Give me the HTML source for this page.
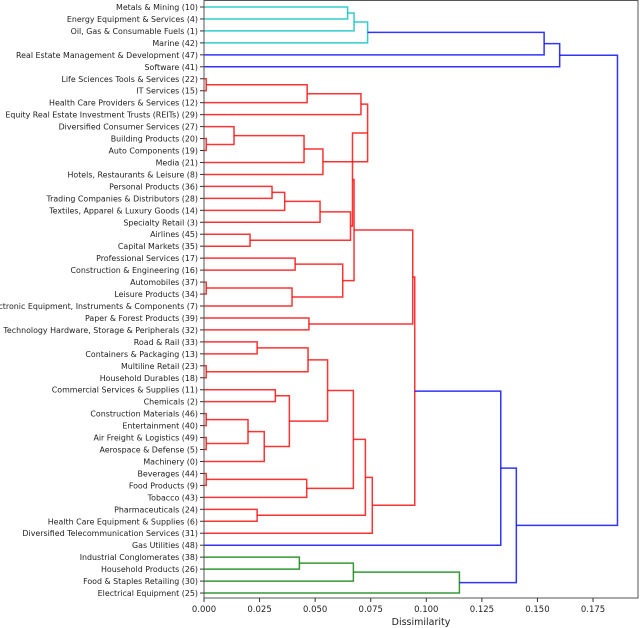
<!DOCTYPE html>
<html><head><meta charset="utf-8"><style>
html,body{margin:0;padding:0;background:#fff;width:640px;height:628px;overflow:hidden}
svg{display:block}
text{font-family:"DejaVu Sans","Liberation Sans",sans-serif;fill:#222}
</style></head><body>
<svg id="chart" width="640" height="628" viewBox="0 0 640 628" xmlns="http://www.w3.org/2000/svg">
<g id="links"></g>
<rect x="204" y="0.5" width="434" height="597.5" fill="none" stroke="#555" stroke-width="1"/>
<g id="ylabels"></g>
<g id="xaxis"></g>
<text x="421" y="625" font-size="9.5" text-anchor="middle">Dissimilarity</text>
</svg>
<script>
const leafLabels = ["Metals & Mining (10)","Energy Equipment & Services (4)","Oil, Gas & Consumable Fuels (1)","Marine (42)","Real Estate Management & Development (47)","Software (41)","Life Sciences Tools & Services (22)","IT Services (15)","Health Care Providers & Services (12)","Equity Real Estate Investment Trusts (REITs) (29)","Diversified Consumer Services (27)","Building Products (20)","Auto Components (19)","Media (21)","Hotels, Restaurants & Leisure (8)","Personal Products (36)","Trading Companies & Distributors (28)","Textiles, Apparel & Luxury Goods (14)","Specialty Retail (3)","Airlines (45)","Capital Markets (35)","Professional Services (17)","Construction & Engineering (16)","Automobiles (37)","Leisure Products (34)","Electronic Equipment, Instruments & Components (7)","Paper & Forest Products (39)","Technology Hardware, Storage & Peripherals (32)","Road & Rail (33)","Containers & Packaging (13)","Multiline Retail (23)","Household Durables (18)","Commercial Services & Supplies (11)","Chemicals (2)","Construction Materials (46)","Entertainment (40)","Air Freight & Logistics (49)","Aerospace & Defense (5)","Machinery (0)","Beverages (44)","Food Products (9)","Tobacco (43)","Pharmaceuticals (24)","Health Care Equipment & Supplies (6)","Diversified Telecommunication Services (31)","Gas Utilities (48)","Industrial Conglomerates (38)","Household Products (26)","Food & Staples Retailing (30)","Electrical Equipment (25)"];
const mergeLeft  = [0,50,51,52,53,6,55,56,11,10,59,60,57,15,63,64,19,65,62,21,23,70,69,68,26,73,28,30,76,32,34,36,80,82,79,78,39,86,85,42,88,90,75,92,46,94,95,93,54];
const mergeRight = [1,2,3,4,5,7,8,9,12,58,13,14,61,16,17,18,20,66,67,22,24,25,71,72,27,74,29,31,77,33,35,37,81,38,83,84,40,41,87,43,89,44,91,45,47,48,49,96,97];
const mergeHeight = [0.0646,0.0675,0.0736,0.153,0.160,0.001,0.0464,0.0706,0.001,0.0135,0.045,0.0535,0.0736,0.0306,0.0363,0.0522,0.0207,0.0659,0.0668,0.041,0.001,0.0396,0.0624,0.0675,0.0472,0.0939,0.0239,0.001,0.0468,0.0321,0.001,0.001,0.0198,0.0271,0.0384,0.0556,0.001,0.0462,0.0672,0.0239,0.0726,0.0757,0.0948,0.1335,0.0429,0.0672,0.1149,0.1405,0.186];
const mergeColor = ["c","c","c","b","b","r","r","r","r","r","r","r","r","r","r","r","r","r","r","r","r","r","r","r","r","r","r","r","r","r","r","r","r","r","r","r","r","r","r","r","r","r","r","b","g","g","g","b","b"];
const xTicks = [0,0.025,0.05,0.075,0.1,0.125,0.15,0.175];

const NS="http://www.w3.org/2000/svg";
const colorMap={c:"#00bfbf",b:"#0000ff",r:"#ff0000",g:"#008000"};
const xScale=v=>204+v*2223;
const yLeaf=i=>7+i*11.96;
const n=leafLabels.length;
const nodeY=[],nodeH=[];
for(let i=0;i<n;i++){nodeY[i]=yLeaf(i);nodeH[i]=0;}
const links=document.getElementById('links');
for(let k=0;k<mergeLeft.length;k++){
  const a=mergeLeft[k],b=mergeRight[k],h=mergeHeight[k];
  const id=n+k;
  nodeY[id]=(nodeY[a]+nodeY[b])/2;nodeH[id]=h;
  const p=document.createElementNS(NS,'path');
  const xa=xScale(nodeH[a]),xb=xScale(nodeH[b]),xh=xScale(h);
  p.setAttribute('d',`M${xa},${nodeY[a]}H${xh}V${nodeY[b]}H${xb}`);
  p.setAttribute('fill','none');
  p.setAttribute('stroke',colorMap[mergeColor[k]]);
  p.setAttribute('stroke-width','1.5');
  p.setAttribute('stroke-opacity','0.8');
  
  
  links.appendChild(p);
}
const yl=document.getElementById('ylabels');
leafLabels.forEach((lab,i)=>{
  const t=document.createElementNS(NS,'text');
  t.setAttribute('x',198);t.setAttribute('y',yLeaf(i)+3);
  t.setAttribute('font-size','7.9');t.setAttribute('text-anchor','end');
  t.textContent=lab;
  
  
  yl.appendChild(t);
  const tk=document.createElementNS(NS,'line');
  tk.setAttribute('x1',200);tk.setAttribute('x2',204);
  tk.setAttribute('y1',yLeaf(i));tk.setAttribute('y2',yLeaf(i));
  tk.setAttribute('stroke','#333');
  
  
  yl.appendChild(tk);
});
const xa=document.getElementById('xaxis');
xTicks.forEach(v=>{
  const x=xScale(v);
  const tk=document.createElementNS(NS,'line');
  tk.setAttribute('x1',x);tk.setAttribute('x2',x);
  tk.setAttribute('y1',598);tk.setAttribute('y2',602);
  tk.setAttribute('stroke','#333');
  
  
  xa.appendChild(tk);
  const t=document.createElementNS(NS,'text');
  t.setAttribute('x',x);t.setAttribute('y',612);
  t.setAttribute('font-size','8.5');t.setAttribute('text-anchor','middle');
  t.textContent=v.toFixed(3);
  
  
  xa.appendChild(t);
});
</script>
</body></html>
